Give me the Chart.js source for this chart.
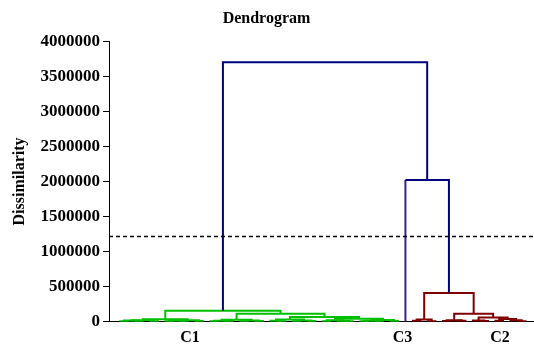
<!DOCTYPE html>
<html>
<head>
<meta charset="utf-8">
<script src="https://cdn.jsdelivr.net/npm/chart.js@4.4.1/dist/chart.umd.min.js"></script>
<style>
  html, body { margin: 0; padding: 0; background: #fff; }
</style>
</head>
<body>
<canvas id="dendroChart" width="534" height="347"></canvas>
<script>
// Classes, in leaf order from left to right
const classNames = ['C1', 'C3', 'C2'];
const classSizes = [38, 1, 16];
const classColors = ['#00c000', '#3c1f96', '#800000'];
const classLabelAt = [9.3, 37.6, 50.6]; // leaf units
const linkColor = '#00007f';

// Agglomeration steps. Ids 0..54 are leaves, step i creates id 55 + i
const mergeLeft = [0, 2, 55, 4, 57, 6, 8, 60, 10, 62, 59,
    12, 14, 66, 16, 18, 69, 68,
    21, 20, 23, 25, 75, 74,
    27, 30, 29, 79, 32, 34, 83, 36, 85, 82, 78, 72, 65,
    39, 41, 92, 43, 45, 95, 48, 47, 50, 53, 52, 100, 99, 97, 94, 38, 91];
const mergeRight = [1, 3, 56, 5, 58, 7, 9, 61, 11, 63, 64,
    13, 15, 67, 17, 19, 70, 71,
    22, 73, 24, 26, 76, 77,
    28, 31, 80, 81, 33, 35, 84, 37, 86, 87, 88, 89, 90,
    40, 42, 93, 44, 46, 96, 49, 98, 51, 54, 101, 102, 103, 104, 105, 106, 107];
const mergeHeight = [7000, 9000, 16000, 6000, 22000, 8000, 5000, 14000, 10000, 20000, 36000,
    6000, 9000, 15000, 7000, 11000, 18000, 28000,
    8000, 13000, 6000, 10000, 17000, 30000,
    7000, 6000, 11000, 20000, 8000, 5000, 15000, 9000, 24000, 42000, 68000, 114000, 157000,
    12000, 8000, 30000, 9000, 14000, 22000, 10000, 18000, 12000, 7000, 20000, 40000, 60000, 114000, 410000, 2020000, 3700000];

const truncationLevel = 1215000;
const yMax = 4000000;
const yStep = 500000;
const xMin = -1.5;
const xMax = 55;

const serif = "'Liberation Serif', 'Times New Roman', serif";

function buildDatasets() {
    const nLeaves = classSizes.reduce((a, b) => a + b, 0);
    const pos = [], height = [], cls = [];
    let k = 0;
    classSizes.forEach((n, c) => {
        for (let i = 0; i < n; i++) {
            pos.push(k);
            height.push(0);
            cls.push(c);
            k++;
        }
    });

    const sets = [];
    // cut line on top
    sets.push({
        data: [{ x: xMin, y: truncationLevel }, { x: xMax, y: truncationLevel }],
        borderColor: '#000',
        borderWidth: 1.3,
        borderDash: [4, 3],
        pointRadius: 0,
        order: 0
    });

    mergeLeft.forEach((a, i) => {
        const b = mergeRight[i];
        const h = mergeHeight[i];
        const c = cls[a] === cls[b] ? cls[a] : -1;
        const col = c >= 0 ? classColors[c] : linkColor;
        const stem = id => (id < nLeaves && c < 0) ? classColors[cls[id]] : col;
        const cols = [stem(a), col, stem(b)];
        sets.push({
            data: [
                { x: pos[a], y: height[a] },
                { x: pos[a], y: h },
                { x: pos[b], y: h },
                { x: pos[b], y: height[b] }
            ],
            borderColor: col,
            segment: { borderColor: ctx => cols[ctx.p0DataIndex] },
            borderWidth: 2,
            borderJoinStyle: 'miter',
            pointRadius: 0,
            order: c >= 0 ? 2 : 1
        });
        pos.push((pos[a] + pos[b]) / 2);
        height.push(h);
        cls.push(c);
    });
    return sets;
}

function initializeChart() {
    const ctx = document.getElementById('dendroChart').getContext('2d');
    new Chart(ctx, {
        type: 'line',
        data: { datasets: buildDatasets() },
        options: {
            responsive: false,
            animation: false,
            layout: { padding: { left: 0, right: 1, top: 0, bottom: 0 } },
            elements: { line: { tension: 0, fill: false } },
            plugins: {
                legend: { display: false },
                tooltip: { enabled: false },
                title: {
                    display: true,
                    text: 'Dendrogram',
                    color: '#000',
                    font: { family: serif, size: 16, weight: 'bold' },
                    padding: { top: 9, bottom: 13 }
                }
            },
            scales: {
                x: {
                    type: 'linear',
                    min: xMin,
                    max: xMax,
                    afterFit: s => { s.height = 25.3; },
                    afterBuildTicks: s => { s.ticks = classLabelAt.map(v => ({ value: v })); },
                    grid: { display: false, drawTicks: false },
                    border: { display: true, color: '#000', width: 1 },
                    ticks: {
                        autoSkip: false,
                        maxRotation: 0,
                        padding: 7,
                        color: '#000',
                        font: { family: serif, size: 16, weight: 'bold' },
                        callback: (v, i) => classNames[i]
                    }
                },
                y: {
                    min: 0,
                    max: yMax,
                    afterFit: s => { s.width = 109; },
                    grid: { display: true, drawOnChartArea: false, drawTicks: true, tickLength: 6, color: '#000' },
                    border: { display: true, color: '#000', width: 1 },
                    ticks: {
                        stepSize: yStep,
                        padding: 3,
                        color: '#000',
                        font: { family: serif, size: 17, weight: 'bold' },
                        callback: v => String(v)
                    },
                    title: {
                        display: true,
                        text: 'Dissimilarity',
                        color: '#000',
                        font: { family: serif, size: 16, weight: 'bold' },
                        padding: { top: 10, bottom: 0 }
                    }
                }
            }
        }
    });
}

document.addEventListener('DOMContentLoaded', initializeChart);
</script>
</body>
</html>
